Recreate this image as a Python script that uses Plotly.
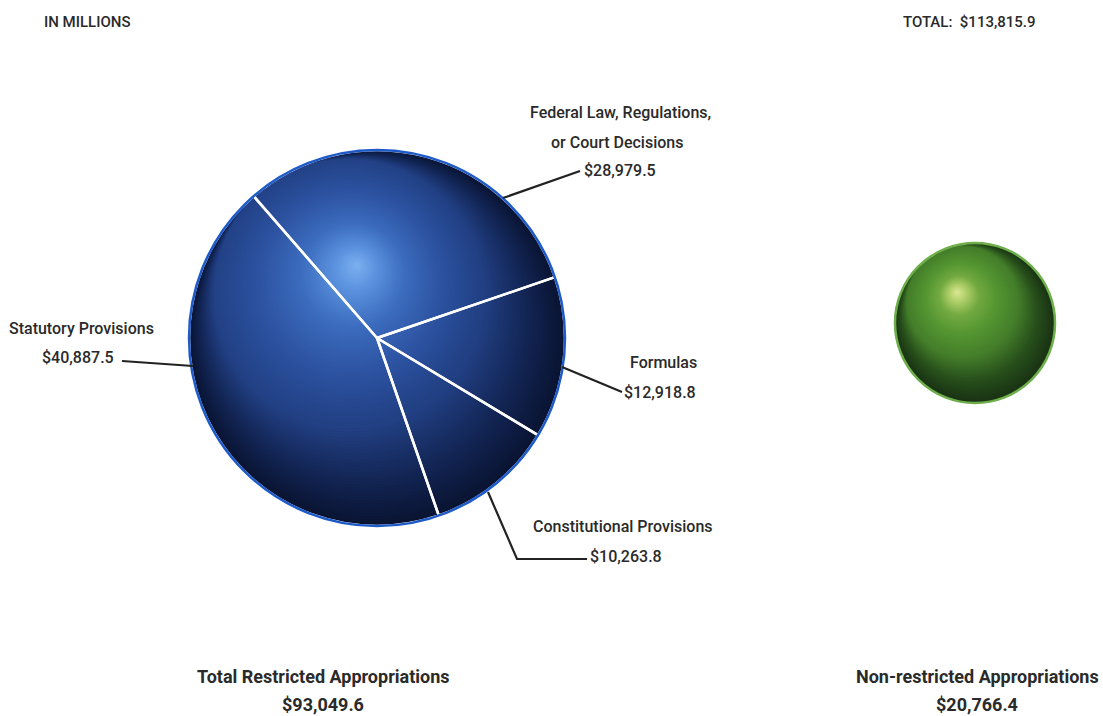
import math
import plotly.graph_objects as go

# ---------------- data ----------------
slice_labels = ["Federal Law, Regulations,<br>or Court Decisions", "Formulas",
                "Constitutional Provisions", "Statutory Provisions"]
slice_values = [28979.5, 12918.8, 10263.8, 40887.5]
restricted_label = "Total Restricted Appropriations"
restricted_total = 93049.6
nonrestricted_label = "Non-restricted Appropriations"
nonrestricted_value = 20766.4
grand_total = 113815.9
unit_note = "IN MILLIONS"

W, H = 1103, 716
FONT = "Roboto, Liberation Sans, sans-serif"
TXT = "#2a2a2a"


def px(x, y):
    return x / W, 1 - y / H


def money(v):
    return f"${v:,.1f}"


def lerp(a, b, t):
    return a + (b - a) * t


def grad(stops, t):
    for i in range(len(stops) - 1):
        t0, c0 = stops[i]
        t1, c1 = stops[i + 1]
        if t <= t1:
            u = (t - t0) / (t1 - t0) if t1 > t0 else 0
            return "rgb(%d,%d,%d)" % tuple(round(lerp(c0[k], c1[k], u)) for k in range(3))
    return "rgb(%d,%d,%d)" % stops[-1][1]


def sphere(cx, cy, r, hx, hy, ux, uy, s1, stops, rim, n=110):
    """Layered circles imitating a lit sphere (decoration only)."""
    shapes = []
    ln = math.hypot(ux, uy)
    ux, uy = ux / ln, uy / ln
    tx, ty = cx + ux * r * s1, cy + uy * r * s1
    for i in range(n):
        s = i / n
        rr = r * (1 - s)
        if s <= s1:
            ccx, ccy = cx + ux * r * s, cy + uy * r * s
        else:
            v = (s - s1) / (1 - s1)
            ccx, ccy = lerp(tx, hx, v), lerp(ty, hy, v)
        x0, y1 = px(ccx - rr, ccy - rr)
        x1, y0 = px(ccx + rr, ccy + rr)
        shapes.append(dict(type="circle", xref="paper", yref="paper", x0=x0, x1=x1,
                           y0=y0, y1=y1, fillcolor=grad(stops, s), line=dict(width=0),
                           layer="below"))
    x0, y1 = px(cx - r, cy - r)
    x1, y0 = px(cx + r, cy + r)
    shapes.append(dict(type="circle", xref="paper", yref="paper", x0=x0, x1=x1, y0=y0, y1=y1,
                       fillcolor="rgba(0,0,0,0)", line=dict(color=rim, width=2.5), layer="above"))
    return shapes


def domain(cx, cy, r):
    x0, y1 = px(cx - r, cy - r)
    x1, y0 = px(cx + r, cy + r)
    return dict(x=[x0, x1], y=[y0, y1])


# geometry (layout only)
BCX, BCY, BR = 377, 338, 188
GCX, GCY, GR = 975, 323, 80

blue_stops = [(0.0, (10, 20, 50)), (0.12, (18, 36, 82)), (0.28, (34, 64, 132)),
              (0.5, (44, 82, 160)), (0.72, (60, 108, 190)), (0.88, (90, 145, 222)),
              (1.0, (125, 178, 240))]
green_stops = [(0.0, (25, 50, 20)), (0.15, (40, 80, 28)), (0.3, (68, 125, 42)),
               (0.55, (85, 150, 50)), (0.75, (115, 170, 65)), (0.9, (180, 210, 110)),
               (1.0, (220, 232, 150))]

fig = go.Figure()
fig.add_trace(go.Pie(labels=slice_labels, values=slice_values, sort=False,
                     direction="clockwise", rotation=-41, textinfo="none",
                     hoverinfo="label+value",
                     marker=dict(colors=["rgba(0,0,0,0)"] * 4,
                                 line=dict(color="white", width=2.5)),
                     domain=domain(BCX, BCY, BR), showlegend=False))
fig.add_trace(go.Pie(labels=[nonrestricted_label], values=[nonrestricted_value],
                     textinfo="none", hoverinfo="label+value",
                     marker=dict(colors=["rgba(0,0,0,0)"], line=dict(width=0)),
                     domain=domain(GCX, GCY, GR), showlegend=False))

shapes = []
shapes += sphere(BCX, BCY, BR, 357, 265, -0.55, -0.85, 0.3, blue_stops, "rgb(30,90,200)")
shapes += sphere(GCX, GCY, GR, 957, 292, -0.5, -0.85, 0.3, green_stops, "rgb(110,175,75)")

leaders = [
    [(503, 198), (580, 171)],
    [(122, 361), (193, 366)],
    [(562, 367), (622, 392)],
    [(488, 492), (517, 559), (587, 559)],
]
for pts in leaders:
    path = "M " + " L ".join("%f,%f" % px(x, y) for x, y in pts)
    shapes.append(dict(type="path", xref="paper", yref="paper", path=path,
                       line=dict(color="#222", width=2.2), layer="above"))

ann = []


def text(t, x, y, anchor="left", size=16, weight=500):
    xx, yy = px(x, y)
    ann.append(dict(text=t, x=xx, y=yy, xref="paper", yref="paper",
                    xanchor=anchor, yanchor="middle", showarrow=False,
                    font=dict(family=FONT, size=size, color=TXT, weight=weight)))


text(unit_note, 87, 22, "center", 15)
text(f"TOTAL:  {money(grand_total)}", 969, 22, "center", 15)

fed_lines = slice_labels[0].split("<br>")
text(fed_lines[0], 620, 113, "center")
text(fed_lines[1], 617, 142, "center")
text(money(slice_values[0]), 582, 170, "left")

text(slice_labels[3], 81, 328, "center")
text(money(slice_values[3]), 78, 357, "center")

text(slice_labels[1], 663, 362, "center")
text(money(slice_values[1]), 622, 392, "left")

text(slice_labels[2], 623, 526, "center")
text(money(slice_values[2]), 588, 556, "left")

text(restricted_label, 323, 676, "center", 18, 700)
text(money(restricted_total), 323, 704, "center", 18, 700)
text(nonrestricted_label, 977, 676, "center", 18, 700)
text(money(nonrestricted_value), 977, 704, "center", 18, 700)

fig.update_layout(width=W, height=H, margin=dict(l=0, r=0, t=0, b=0),
                  paper_bgcolor="white", plot_bgcolor="white",
                  shapes=shapes, annotations=ann, showlegend=False)
fig.write_html("out.html")
